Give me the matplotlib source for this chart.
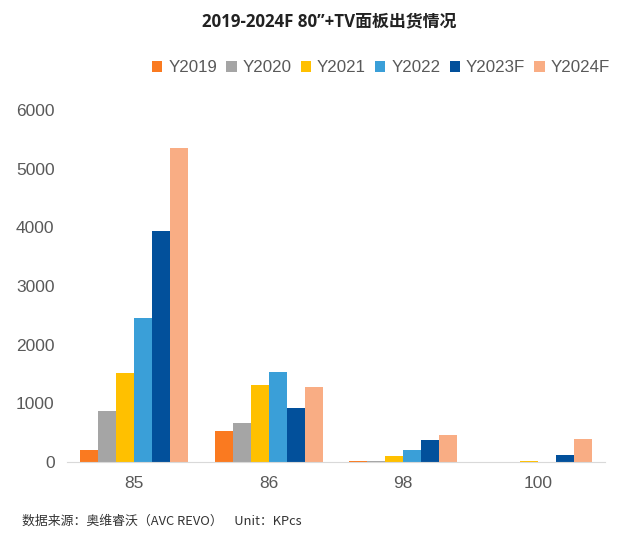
import numpy as np
import matplotlib
matplotlib.use('Agg')
import matplotlib.pyplot as plt

plt.rcParams['font.family'] = ['Liberation Sans', 'Noto Sans CJK SC', 'DejaVu Sans']

# data (KPcs)
categories = ['85', '86', '98', '100']
series = ['Y2019', 'Y2020', 'Y2021', 'Y2022', 'Y2023F', 'Y2024F']
y2019 = [210, 530, 20, 0]
y2020 = [870, 670, 15, 0]
y2021 = [1510, 1320, 100, 20]
y2022 = [2450, 1535, 200, 0]
y2023f = [3940, 925, 375, 120]
y2024f = [5360, 1280, 455, 390]
colors = ['#FA7A20', '#A5A5A5', '#FFC000', '#3A9FD8', '#02509B', '#F9AD84']

values = [y2019, y2020, y2021, y2022, y2023f, y2024f]

fig = plt.figure(figsize=(6.21, 5.47), dpi=100)
ax = fig.add_axes([67 / 621, 1 - 462 / 547, 538 / 621, 352 / 547])

x = np.arange(len(categories))
w = 0.8 / len(series)
for i, (name, vals) in enumerate(zip(series, values)):
    ax.bar(x - 0.4 + w * (i + 0.5), vals, width=w, color=colors[i], label=name)

ax.set_xlim(-0.5, len(categories) - 0.5)
ax.set_ylim(0, 6000)
ax.set_yticks(range(0, 6001, 1000))
ax.set_xticks(x)
ax.set_xticklabels(categories)
for s in ['top', 'right', 'left']:
    ax.spines[s].set_visible(False)
ax.spines['bottom'].set_color('#D9D9D9')
ax.tick_params(axis='both', length=0, labelsize=12.5, colors='#595959')
ax.tick_params(axis='x', pad=10)
ax.tick_params(axis='y', pad=9)

fig.text(329 / 621, 1 - 21 / 547, '2019-2024F 80”+TV面板出货情况', ha='center', va='center',
         fontsize=12.2, fontweight='bold', color='#222222',
         family=['Open Sans', 'Noto Sans CJK SC', 'DejaVu Sans'])

fig.legend(loc='center', bbox_to_anchor=(381 / 621, 1 - 68 / 547), ncol=6, frameon=False,
           fontsize=12.2, handlelength=0.6, handleheight=0.6, handletextpad=0.35,
           columnspacing=0.55, labelcolor='#595959', borderaxespad=0, borderpad=0)

fig.text(22 / 621, 1 - 521 / 547, '数据来源：奥维睿沃（AVC REVO）    Unit：KPcs', ha='left', va='center',
         fontsize=9.3, color='#333333', family=['Noto Sans CJK SC', 'DejaVu Sans'])

fig.savefig('out.png', dpi=100)
